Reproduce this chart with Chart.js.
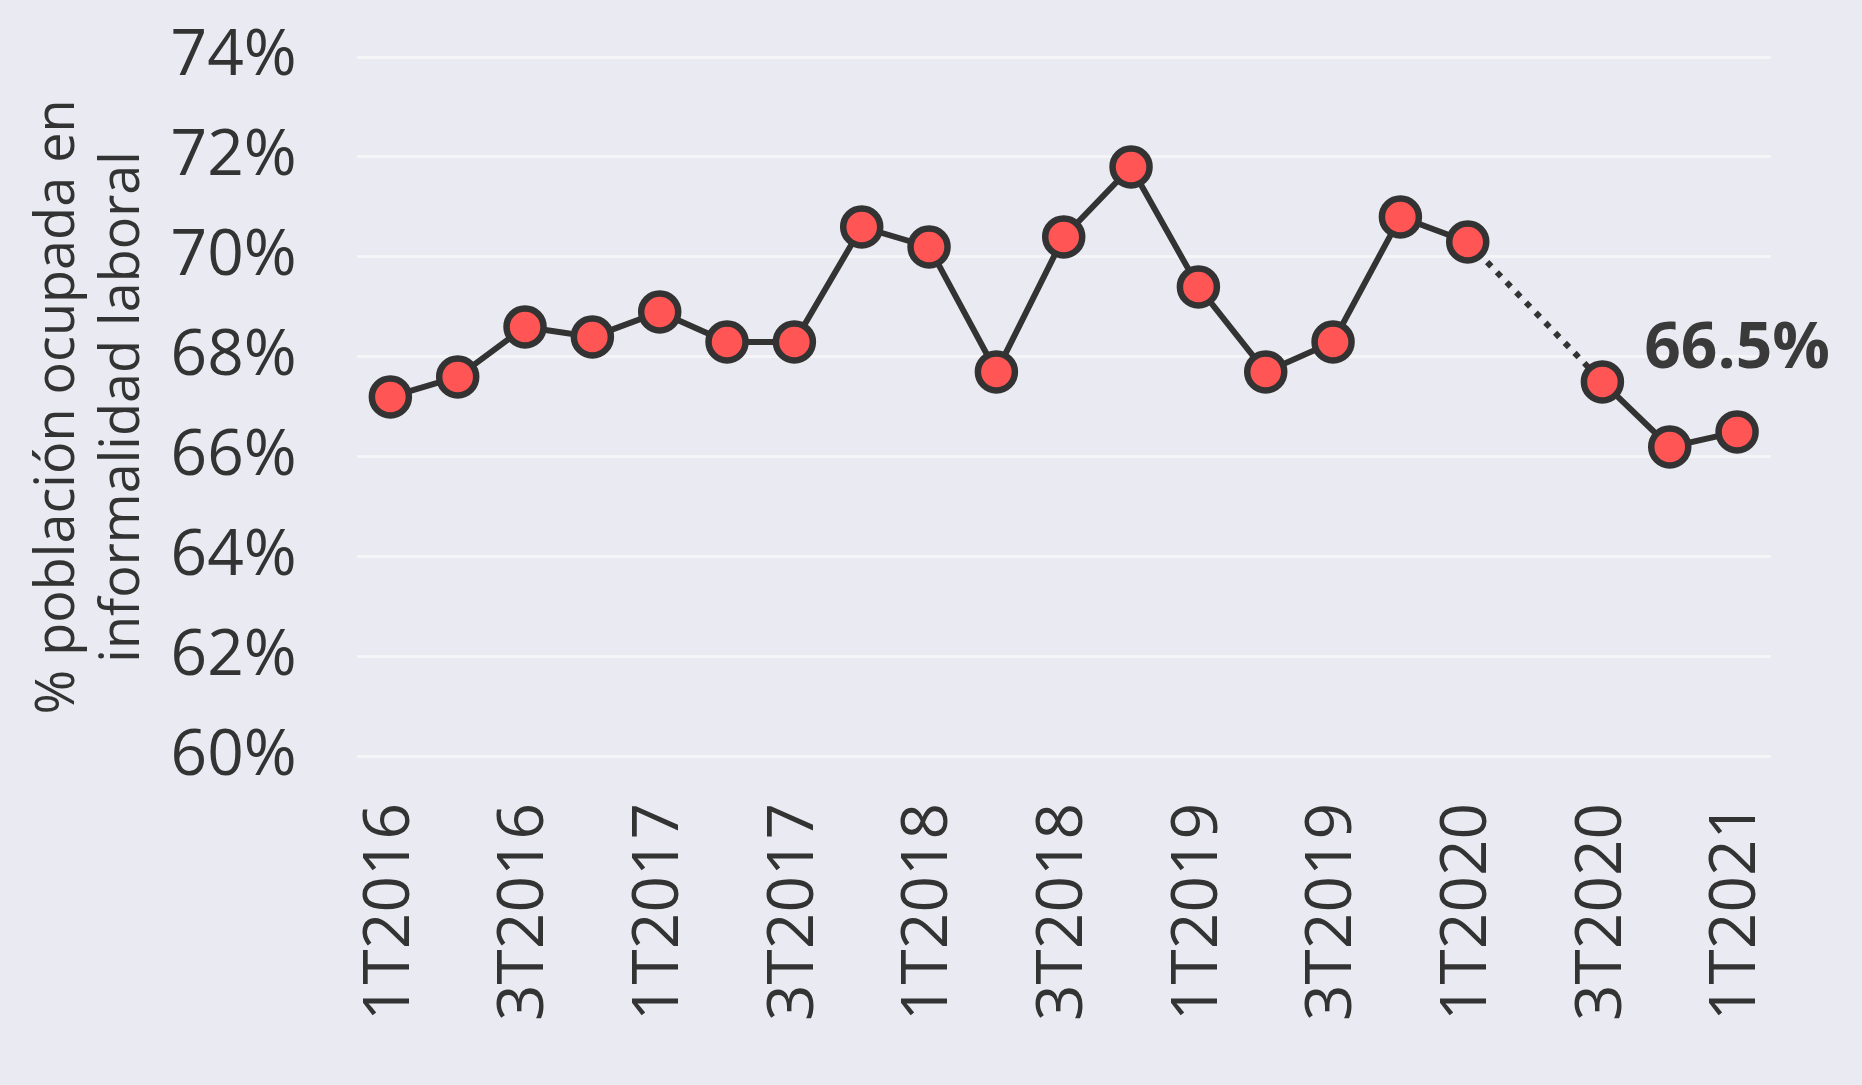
<!DOCTYPE html>
<html>
<head>
<meta charset="utf-8">
<script src="https://cdn.jsdelivr.net/npm/chart.js@4.4.1/dist/chart.umd.min.js"></script>
<style>
  html, body { margin: 0; padding: 0; background: #EAEAF2; }
  #wrap { width: 1862px; height: 1085px; }
</style>
</head>
<body>
<div id="wrap"><canvas id="myChart"></canvas></div>
<script>
// trimestres
const quarters = [
  '1T2016', '2T2016', '3T2016', '4T2016',
  '1T2017', '2T2017', '3T2017', '4T2017',
  '1T2018', '2T2018', '3T2018', '4T2018',
  '1T2019', '2T2019', '3T2019', '4T2019',
  '1T2020', '2T2020', '3T2020', '4T2020',
  '1T2021'
];

// % población ocupada en informalidad laboral (2T2020 sin dato)
const informalidad = [
  67.2, 67.6, 68.6, 68.4,
  68.9, 68.3, 68.3, 70.6,
  70.2, 67.7, 70.4, 71.8,
  69.4, 67.7, 68.3, 70.8,
  70.3, null, 67.5, 66.2,
  66.5
];

const yTicks = [60, 62, 64, 66, 68, 70, 72, 74];

const axisTitle = ['% población ocupada en', 'informalidad laboral'];

const txtColor = '#333333';
const font = "'Open Sans', 'Noto Sans', sans-serif";

// fondo gris azulado
const bgPlugin = {
  id: 'bg',
  beforeDraw(chart) {
    const c = chart.ctx;
    c.save();
    c.fillStyle = '#EAEAF2';
    c.fillRect(0, 0, chart.width, chart.height);
    c.restore();
  }
};

// etiqueta del último valor
const lastLabel = {
  id: 'lastLabel',
  afterDatasetsDraw(chart) {
    const meta = chart.getDatasetMeta(0);
    const idx = informalidad.length - 1;
    const pt = meta.data[idx];
    const c = chart.ctx;
    c.save();
    c.font = `bold 64px ${font}`;
    c.fillStyle = '#3a3a3a';
    c.textAlign = 'center';
    c.textBaseline = 'alphabetic';
    c.fillText(informalidad[idx].toFixed(1) + '%', pt.x, pt.y - 64);
    c.restore();
  }
};

let ctx = document.querySelector('#myChart');

let charter = new Chart(ctx, {
  type: 'line',
  data: {
    labels: quarters,
    datasets: [{
      data: informalidad,
      borderColor: '#333333',
      borderWidth: 6,
      pointRadius: 18.5,
      pointHoverRadius: 18.5,
      pointBackgroundColor: '#FF5555',
      pointBorderColor: '#333333',
      pointBorderWidth: 6.5,
      spanGaps: true,
      tension: 0,
      segment: {
        borderDash: c => informalidad[c.p1DataIndex - 1] === null ? [6, 8] : undefined,
        borderCapStyle: 'butt'
      }
    }]
  },
  options: {
    responsive: true,
    maintainAspectRatio: false,
    animation: false,
    events: [],
    layout: {
      padding: { left: 26, right: 89, top: 57, bottom: 18 }
    },
    plugins: {
      legend: { display: false },
      tooltip: { enabled: false }
    },
    scales: {
      x: {
        offset: true,
        grid: { display: false, drawTicks: false },
        border: { display: false },
        ticks: {
          autoSkip: false,
          maxRotation: 90,
          minRotation: 90,
          padding: 46,
          color: txtColor,
          font: { family: font, size: 64 },
          callback: function(val, idx) {
            return idx % 2 === 0 ? quarters[idx] : '';
          }
        }
      },
      y: {
        min: yTicks[0],
        max: yTicks[yTicks.length - 1],
        afterBuildTicks: axis => {
          axis.ticks = yTicks.map(v => ({ value: v }));
        },
        afterFit: axis => {
          axis.paddingTop = 0;
          axis.paddingBottom = 0;
        },
        grid: { color: '#F5F5F8', lineWidth: 3, drawTicks: false },
        border: { display: false },
        ticks: {
          padding: 60,
          color: txtColor,
          font: { family: font, size: 64 },
          callback: v => v + '%'
        },
        title: {
          display: true,
          text: axisTitle,
          color: txtColor,
          font: { family: font, size: 54, lineHeight: 1.2 },
          padding: { top: 0, bottom: -45 }
        }
      }
    }
  },
  plugins: [bgPlugin, lastLabel]
});
</script>
</body>
</html>
